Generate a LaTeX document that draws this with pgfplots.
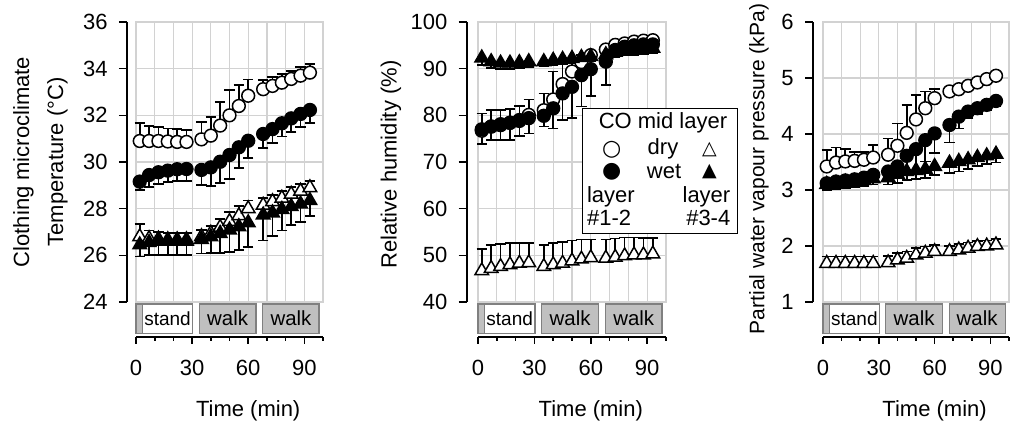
\documentclass[border=0pt]{standalone}
\usepackage{pgfplots}
\usepackage{pgfplotstable}
\pgfplotsset{compat=1.18}
\usepackage{fontspec}
\setmainfont{Liberation Sans}
\newfontfamily\symfont{DejaVu Sans}
\definecolor{gridgray}{RGB}{210,210,210}
\definecolor{boxfill}{RGB}{192,192,192}
\definecolor{boxdraw}{RGB}{128,128,128}

\pgfplotstableread{
t  oc    ocE   fc    fcE   ot    otE   ft    ftE
2  30.90 0.78  29.16 0.36  26.80 0.55  26.45 0.50
7  30.90 0.65  29.44 0.50  26.72 0.35  26.55 0.55
12 30.90 0.60  29.56 0.50  26.70 0.30  26.60 0.60
17 30.88 0.55  29.63 0.50  26.67 0.30  26.60 0.60
22 30.86 0.55  29.69 0.50  26.67 0.30  26.60 0.60
27 30.86 0.50  29.70 0.50  26.67 0.30  26.60 0.60
35 30.97 0.75  29.66 0.65  26.80 0.30  26.68 0.60
40 31.13 0.80  29.77 0.80  26.95 0.30  26.80 0.70
45 31.56 1.00  30.01 0.92  27.20 0.35  26.94 0.85
50 32.00 1.10  30.30 1.04  27.45 0.40  27.09 0.95
55 32.40 0.90  30.63 0.90  27.70 0.40  27.23 1.00
60 32.84 0.70  30.91 0.75  28.00 0.35  27.40 1.03
68 33.12 0.40  31.20 0.60  28.15 0.30  27.73 1.10
73 33.26 0.37  31.41 0.60  28.30 0.30  27.82 1.00
78 33.40 0.37  31.66 0.57  28.45 0.30  27.97 0.90
83 33.56 0.35  31.87 0.57  28.62 0.30  28.09 0.80
88 33.70 0.36  32.06 0.57  28.75 0.30  28.20 0.76
93 33.83 0.37  32.23 0.57  28.90 0.30  28.35 0.65
}\dataT

\pgfplotstableread{
t  oc    ocE   fc    fcE   ot    otE   ft    ftE
2  76.7  3.7   77.0  3.1   46.7  4.6   92.3  1.5
7  77.6  3.6   77.6  2.9   47.2  5.0   91.5  1.4
12 77.9  3.3   78.1  3.4   47.6  4.8   91.2  1.3
17 78.4  2.9   78.4  3.7   48.0  4.6   91.2  1.3
22 79.0  3.0   78.8  3.2   48.3  4.4   91.3  1.2
27 80.1  3.3   79.4  3.3   48.4  4.3   91.5  1.2
35 81.1  3.6   79.9  2.3   47.6  4.6   91.5  1.0
40 83.4  6.0   81.5  4.3   48.0  4.6   91.8  1.0
45 86.7  4.4   84.7  5.7   48.3  4.6   92.0  1.0
50 89.4  2.5   86.1  6.7   48.8  4.4   92.2  1.0
55 91.4  1.5   88.6  6.7   49.2  4.2   92.4  1.0
60 92.9  1.0   89.9  5.8   49.5  3.9   92.6  1.0
68 94.1  0.6   91.5  5.0   49.4  4.0   93.0  1.0
73 95.1  0.5   94.0  1.5   49.6  4.0   93.5  1.0
78 95.4  0.5   94.7  1.2   49.9  3.9   93.8  1.0
83 95.8  0.5   95.0  1.0   50.1  3.7   94.0  1.0
88 96.0  0.5   95.2  1.0   50.1  3.6   94.2  1.0
93 96.1  0.5   95.2  1.0   50.3  3.4   94.4  1.0
}\dataRH

\pgfplotstableread{
t  oc    ocE   fc    fcE   ot    otE   ft    ftE
2  3.42  0.29  3.12  0.05  1.69  0.12  3.10  0.10
7  3.49  0.27  3.15  0.05  1.69  0.12  3.12  0.10
12 3.51  0.22  3.17  0.05  1.69  0.12  3.14  0.10
17 3.52  0.16  3.19  0.05  1.69  0.12  3.15  0.10
22 3.54  0.14  3.22  0.05  1.69  0.12  3.17  0.10
27 3.58  0.22  3.27  0.05  1.69  0.12  3.20  0.10
35 3.63  0.29  3.33  0.10  1.70  0.12  3.22  0.12
40 3.79  0.40  3.42  0.20  1.75  0.12  3.28  0.15
45 4.02  0.50  3.61  0.30  1.78  0.12  3.33  0.15
50 4.26  0.44  3.73  0.43  1.84  0.12  3.35  0.15
55 4.46  0.30  3.89  0.38  1.87  0.12  3.37  0.15
60 4.64  0.16  4.01  0.35  1.90  0.12  3.42  0.15
68 4.76  0.05  4.16  0.31  1.90  0.10  3.48  0.18
73 4.80  0.05  4.31  0.21  1.93  0.10  3.51  0.18
78 4.86  0.05  4.40  0.12  1.96  0.10  3.54  0.16
83 4.92  0.05  4.46  0.10  1.99  0.10  3.58  0.15
88 4.98  0.05  4.52  0.10  2.00  0.10  3.61  0.15
93 5.04  0.05  4.59  0.10  2.02  0.10  3.64  0.15
}\dataP

\newcommand{\tickfont}{\fontsize{11}{13}\selectfont}
\newcommand{\labfont}{\fontsize{11}{17}\selectfont}
\newcommand{\walkfont}{\fontsize{10.2}{12}\selectfont}
\newcommand{\standfont}{\fontsize{9.5}{11}\selectfont}

\pgfplotsset{
  plotarea/.style={scale only axis, width=#1, height=140pt,
    xmin=0, xmax=100, xtick={0,10,...,100},
    xticklabels={}, yticklabels={},
    xtick style={draw=none}, ytick style={draw=none},
    grid=major, grid style={draw=gridgray, line width=0.6pt},
    axis line style={draw=gridgray, line width=0.6pt},
    clip=false},
  yaxisonly/.style={scale only axis, width=5pt, height=140pt,
    xmin=0, xmax=1, xtick=\empty, axis y line=left, axis x line=none,
    axis line style={-, line width=0.8pt, draw=black},
    tick align=outside, major tick length=4pt,
    ytick style={line width=0.8pt, draw=black},
    /pgf/number format/assume math mode=true,
    yticklabel style={font=\tickfont, anchor=east, inner sep=0pt, xshift=-5.5pt},
    ylabel style={font=\labfont, align=center, anchor=center}},
  xaxisonly/.style={scale only axis, width=#1, height=16.5pt,
    xmin=0, xmax=100, ymin=0, ymax=1, ytick=\empty,
    axis x line=bottom, axis y line=none,
    axis line style={-, line width=0.8pt, draw=black},
    xtick={0,30,60,90}, minor xtick={10,20,40,50,70,80,100},
    tick align=outside, major tick length=3.4pt, minor tick length=2pt,
    xtick style={line width=0.8pt, draw=black},
    /pgf/number format/assume math mode=true,
    xticklabel style={font=\tickfont, anchor=north, inner sep=0pt, yshift=-8pt},
    xlabel={Time (min)},
    xlabel style={font=\labfont, anchor=center, at={(axis description cs:0.6,-2.25)}},
    clip=false},
  ebar/.style={error bars/.cd, y dir=#1, y explicit,
    error bar style={line width=0.85pt, black},
    error mark=-,
    error mark options={rotate=90, line width=0.85pt, black, mark size=2.6pt}},
  ocirc/.style={only marks, mark=*, mark size=3.2pt,
    mark options={fill=white, draw=black, line width=0.75pt},
    ebar=plus},
  fcirc/.style={only marks, mark=*, mark size=3.2pt,
    mark options={fill=black, draw=black, line width=0.75pt},
    ebar=minus},
  otri/.style={only marks, mark=triangle*, mark size=3.9pt,
    mark options={fill=white, draw=black, line width=0.75pt},
    ebar=plus},
  ftri/.style={only marks, mark=triangle*, mark size=3.9pt,
    mark options={fill=black, draw=black, line width=0.75pt},
    ebar=minus},
}

\newcommand{\phasebar}{%
  \draw[fill=boxfill, draw=boxdraw, line width=0.6pt] (axis cs:0,0.11) rectangle (axis cs:3.4,1);
  \draw[fill=white, draw=boxdraw, line width=0.6pt] (axis cs:3.4,0.11) rectangle (axis cs:30.3,1);
  \draw[fill=boxfill, draw=boxdraw, line width=0.6pt] (axis cs:33.8,0.11) rectangle (axis cs:64.2,1);
  \draw[fill=boxfill, draw=boxdraw, line width=0.6pt] (axis cs:67.8,0.11) rectangle (axis cs:97.9,1);
  \node[font=\standfont, inner sep=0pt] at (axis cs:16.85,0.555) {stand};
  \node[font=\walkfont, inner sep=0pt] at (axis cs:49,0.555) {walk};
  \node[font=\walkfont, inner sep=0pt] at (axis cs:82.85,0.555) {walk};
}

\begin{document}
\begin{tikzpicture}
% ---------- Panel 1: temperature ----------
\begin{axis}[plotarea=93.5pt, at={(68pt,-151pt)}, anchor=south west,
  ymin=24, ymax=36, ytick={24,26,...,36}]
  \addplot[ocirc] table[x=t, y=oc, y error=ocE] {\dataT};
  \addplot[otri] table[x=t, y=ot, y error=otE] {\dataT};
  \addplot[fcirc] table[x=t, y=fc, y error=fcE] {\dataT};
  \addplot[ftri] table[x=t, y=ft, y error=ftE] {\dataT};
\end{axis}
\begin{axis}[yaxisonly, at={(63.5pt,-151pt)}, anchor=south west,
  ymin=24, ymax=36, ytick={24,26,...,36},
  ylabel={Clothing microclimate\\Temperature (°C)},
  ylabel style={at={(axis description cs:-8.65,0.5)}}]
\end{axis}
\begin{axis}[xaxisonly=93.5pt, at={(68pt,-168.5pt)}, anchor=south west]
  \phasebar
\end{axis}

% ---------- Panel 2: relative humidity ----------
\begin{axis}[plotarea=94pt, at={(239pt,-151pt)}, anchor=south west,
  ymin=40, ymax=100, ytick={40,50,...,100}]
  \addplot[ocirc] table[x=t, y=oc, y error=ocE] {\dataRH};
  \addplot[otri] table[x=t, y=ot, y error=otE] {\dataRH};
  \addplot[fcirc] table[x=t, y=fc, y error=fcE] {\dataRH};
  \addplot[ftri] table[x=t, y=ft, y error=ftE] {\dataRH};
\end{axis}
\begin{axis}[yaxisonly, at={(233.35pt,-151pt)}, anchor=south west,
  ymin=40, ymax=100, ytick={40,50,...,100},
  ylabel={Relative humidity (\%)},
  ylabel style={at={(axis description cs:-7.57,0.491)}}]
\end{axis}
\begin{axis}[xaxisonly=94pt, at={(239pt,-168.5pt)}, anchor=south west]
  \phasebar
\end{axis}

% ---------- Panel 3: partial water vapour pressure ----------
\begin{axis}[plotarea=93pt, at={(411.5pt,-151pt)}, anchor=south west,
  ymin=1, ymax=6, ytick={1,2,...,6}]
  \addplot[ocirc] table[x=t, y=oc, y error=ocE] {\dataP};
  \addplot[otri] table[x=t, y=ot, y error=otE] {\dataP};
  \addplot[fcirc] table[x=t, y=fc, y error=fcE] {\dataP};
  \addplot[ftri] table[x=t, y=ft, y error=ftE] {\dataP};
\end{axis}
\begin{axis}[yaxisonly, at={(406.5pt,-151pt)}, anchor=south west,
  ymin=1, ymax=6, ytick={1,2,...,6},
  ylabel={Partial water vapour pressure (kPa)},
  ylabel style={font=\fontsize{10.5}{12}\selectfont, at={(axis description cs:-5.4,0.475)}}]
\end{axis}
\begin{axis}[xaxisonly=93pt, at={(411.5pt,-168.5pt)}, anchor=south west]
  \phasebar
\end{axis}

% ---------- Legend ----------
\draw[fill=white, line width=0.6pt] (291.35pt,-54.15pt) rectangle (368.65pt,-116.65pt);
\node[font=\labfont, inner sep=0pt] at (331.5pt,-61.35pt) {CO mid layer};
\node[font=\symfont\fontsize{11}{12}\selectfont, inner sep=0pt] at (305.85pt,-74.65pt) {○};
\node[font=\labfont, inner sep=0pt] at (331.5pt,-74.65pt) {dry};
\node[font=\symfont\fontsize{9.5}{11}\selectfont, inner sep=0pt] at (354.65pt,-74.65pt) {△};
\node[font=\symfont\fontsize{11}{12}\selectfont, inner sep=0pt] at (305.85pt,-85.85pt) {●};
\node[font=\labfont, inner sep=0pt] at (332pt,-85.85pt) {wet};
\node[font=\symfont\fontsize{9.5}{11}\selectfont, inner sep=0pt] at (354.65pt,-85.85pt) {▲};
\node[font=\labfont, inner sep=0pt, anchor=west] at (293.35pt,-98.35pt) {layer};
\node[font=\labfont, inner sep=0pt, anchor=east] at (365.35pt,-98.35pt) {layer};
\node[font=\labfont, inner sep=0pt, anchor=west] at (293.35pt,-109.15pt) {\#1-2};
\node[font=\labfont, inner sep=0pt, anchor=east] at (365.35pt,-109.15pt) {\#3-4};

\pgfresetboundingbox
\path[use as bounding box] (0pt,0pt) rectangle (506pt,-213pt);
\end{tikzpicture}
\end{document}
